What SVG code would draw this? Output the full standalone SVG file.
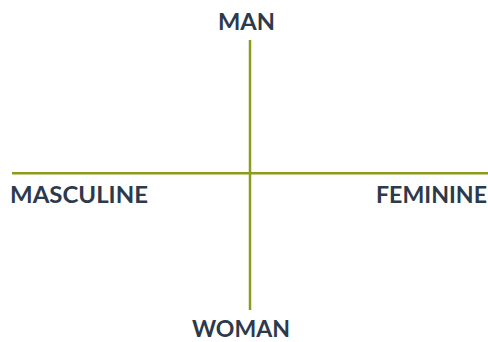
<svg xmlns="http://www.w3.org/2000/svg" width="488" height="342" viewBox="0 0 488 342">
<style>
.axis{stroke:#8c9c1e;stroke-width:2.5;fill:none}
.lbl{font-family:Lato,"Liberation Sans",sans-serif;font-weight:bold;font-size:22px;fill:#2c3a4b}
</style>
<rect width="488" height="342" fill="#ffffff"/>
<g id="connectors">
<line class="axis" x1="250" y1="40" x2="250" y2="310"/>
<line class="axis" x1="12" y1="173.3" x2="488" y2="173.3"/>
</g>
<g id="man"><text class="lbl" x="218" y="30" textLength="57" lengthAdjust="spacingAndGlyphs">MAN</text></g>
<g id="masculine"><text class="lbl" x="10" y="202.5" textLength="138" lengthAdjust="spacingAndGlyphs">MASCULINE</text></g>
<g id="feminine"><text class="lbl" x="376" y="202.5" textLength="111" lengthAdjust="spacingAndGlyphs">FEMININE</text></g>
<g id="woman"><text class="lbl" x="192" y="336.5" textLength="98" lengthAdjust="spacingAndGlyphs">WOMAN</text></g>
</svg>
